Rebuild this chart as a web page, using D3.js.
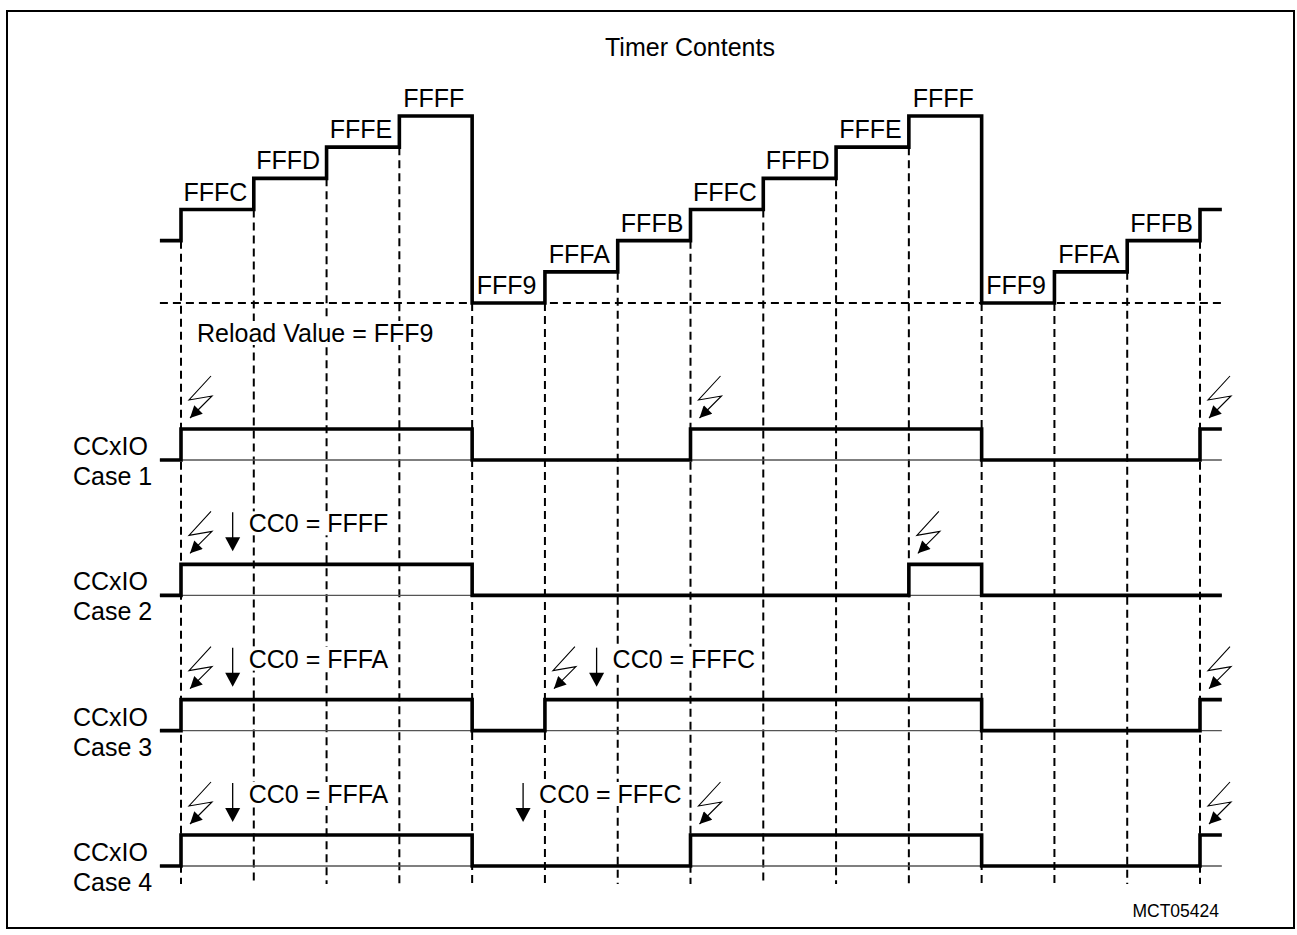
<!DOCTYPE html>
<html>
<head>
<meta charset="utf-8">
<script src="https://cdn.jsdelivr.net/npm/d3@7"></script>
<style>
  body { margin: 0; background: #fff; }
  text { font-family: "Liberation Sans", Arial, sans-serif; fill: #000; }
</style>
</head>
<body>
<script>
// timer ticks (clock edges) 0..14, segment i runs from tick i to tick i+1 (segment -1 is before tick 0)
var ticks = d3.range(15);
var counterValues = ["FFFB", "FFFC", "FFFD", "FFFE", "FFFF", "FFF9", "FFFA", "FFFB",
  "FFFC", "FFFD", "FFFE", "FFFF", "FFF9", "FFFA", "FFFB", "FFFC"];
var reloadValue = "FFF9";

var caseNames = ["Case 1", "Case 2", "Case 3", "Case 4"];
var caseLevels = [
  [0, 1, 1, 1, 1, 0, 0, 0, 1, 1, 1, 1, 0, 0, 0, 1],
  [0, 1, 1, 1, 1, 0, 0, 0, 0, 0, 0, 1, 0, 0, 0, 0],
  [0, 1, 1, 1, 1, 0, 1, 1, 1, 1, 1, 1, 0, 0, 0, 1],
  [0, 1, 1, 1, 1, 0, 0, 0, 1, 1, 1, 1, 0, 0, 0, 1]
];
// ticks where the output is triggered (lightning)
var triggerTicks = [[0, 7, 14], [0, 10], [0, 5, 14], [0, 7, 14]];
// compare register writes: time and new value
var compareTimes = [[], [0.71], [0.71, 5.71], [0.71, 4.7]];
var compareValues = [[], ["FFFF"], ["FFFA", "FFFC"], ["FFFA", "FFFC"]];

var W = 1297, H = 935;
var svg = d3.select("body").append("svg")
  .attr("width", W)
  .attr("height", H);

svg.append("rect")
  .attr("x", 7).attr("y", 11)
  .attr("width", 1287).attr("height", 917)
  .attr("fill", "none").attr("stroke", "#000").attr("stroke-width", 2);

var x = d3.scaleLinear().domain([0, 14]).range([181, 1200]);
var tStart = -0.29, tEnd = 14.3;
var yCount = d3.scaleLinear().domain([0xFFF9, 0xFFFF]).range([303, 116]);
var caseLow = d3.scaleLinear().domain([0, 3]).range([460, 866]);
var highOffset = 31;

function hex(s) { return parseInt(s, 16); }

var defs = svg.append("defs");
defs.append("marker")
  .attr("id", "bolt")
  .attr("viewBox", "0 0 10 10")
  .attr("refX", 10).attr("refY", 5)
  .attr("markerWidth", 15).attr("markerHeight", 12)
  .attr("markerUnits", "userSpaceOnUse")
  .attr("orient", "auto")
  .append("path").attr("d", "M0,0L10,5L0,10Z").attr("fill", "#000");

// dashed grid
var gDash = svg.append("g");
gDash.append("line")
  .attr("x1", x(tStart)).attr("x2", x(tEnd))
  .attr("y1", yCount(hex(reloadValue))).attr("y2", yCount(hex(reloadValue)))
  .attr("stroke", "#000").attr("stroke-width", 1.8).attr("stroke-dasharray", "8,5");

gDash.selectAll(".vdash")
  .data(ticks)
  .enter().append("line")
  .attr("class", "vdash")
  .attr("x1", function(d) { return x(d); })
  .attr("x2", function(d) { return x(d); })
  .attr("y1", function(d) {
    var a = hex(counterValues[d]), b = hex(counterValues[d + 1]);
    return yCount(Math.min(a, b));
  })
  .attr("y2", 884)
  .attr("stroke", "#000").attr("stroke-width", 2).attr("stroke-dasharray", "8,5");

// text with white background
function label(g, tx, ty, str, size, anchor) {
  var t = g.append("text")
    .attr("x", tx).attr("y", ty)
    .attr("font-size", size)
    .attr("text-anchor", anchor || "start")
    .text(str);
  var bb = t.node().getBBox();
  g.insert("rect", function() { return t.node(); })
    .attr("x", bb.x - 1).attr("y", bb.y + 2)
    .attr("width", bb.width + 2).attr("height", bb.height - 4)
    .attr("fill", "#fff");
  return t;
}

var gText = svg.append("g");
svg.append("text")
  .attr("x", 690).attr("y", 56)
  .attr("font-size", 25).attr("text-anchor", "middle")
  .text("Timer Contents");

// counter step labels
d3.range(ticks.length - 1).forEach(function(i) {
  var v = counterValues[i + 1];
  label(gText, (x(i) + x(i + 1)) / 2 - 2, yCount(hex(v)) - 9, v, 25, "middle");
});
label(gText, 197, 342, "Reload Value = " + reloadValue, 25);

// counter staircase
var stepLine = d3.line()
  .x(function(d) { return x(d[0]); })
  .y(function(d) { return d[1]; })
  .curve(d3.curveStepAfter);

var countPts = [[tStart, yCount(hex(counterValues[0]))]];
ticks.forEach(function(t) { countPts.push([t, yCount(hex(counterValues[t + 1]))]); });
countPts.push([tEnd, yCount(hex(counterValues[counterValues.length - 1]))]);

svg.append("path")
  .attr("d", stepLine(countPts))
  .attr("fill", "none").attr("stroke", "#000").attr("stroke-width", 3.6)
  .attr("stroke-linejoin", "miter");

// output cases
caseNames.forEach(function(name, k) {
  var low = caseLow(k), high = low - highOffset;
  var g = svg.append("g");

  g.append("line")
    .attr("x1", x(tStart)).attr("x2", x(tEnd))
    .attr("y1", low).attr("y2", low)
    .attr("stroke", "#555").attr("stroke-width", 1.3);

  var lv = caseLevels[k];
  var pts = [[tStart, lv[0] ? high : low]];
  ticks.forEach(function(t) { pts.push([t, lv[t + 1] ? high : low]); });
  pts.push([tEnd, lv[lv.length - 1] ? high : low]);

  g.append("path")
    .attr("d", stepLine(pts))
    .attr("fill", "none").attr("stroke", "#000").attr("stroke-width", 3.6)
    .attr("stroke-linejoin", "miter");

  g.append("text").attr("x", 73).attr("y", low - 5).attr("font-size", 25).text("CCxIO");
  g.append("text").attr("x", 73).attr("y", low + 25).attr("font-size", 25).text(name);

  // trigger bolts
  triggerTicks[k].forEach(function(t) {
    var x0 = x(t);
    g.append("path")
      .attr("d", "M" + (x0 + 30) + "," + (high - 53) +
        "L" + (x0 + 8) + "," + (high - 29) +
        "L" + (x0 + 31) + "," + (high - 33) +
        "L" + (x0 + 9) + "," + (high - 11))
      .attr("fill", "none").attr("stroke", "#000").attr("stroke-width", 1.1)
      .attr("marker-end", "url(#bolt)");
  });

  // compare writes
  compareTimes[k].forEach(function(t, j) {
    var ax = x(t);
    g.append("line")
      .attr("x1", ax).attr("x2", ax)
      .attr("y1", high - 52).attr("y2", high - 26)
      .attr("stroke", "#000").attr("stroke-width", 1.3);
    g.append("path")
      .attr("d", "M" + (ax - 7.5) + "," + (high - 27) + "L" + (ax + 7.5) + "," + (high - 27) + "L" + ax + "," + (high - 13) + "Z")
      .attr("fill", "#000");
    label(gText, ax + 16, high - 32, "CC0 = " + compareValues[k][j], 25);
  });
});

svg.append("text")
  .attr("x", 1219).attr("y", 917)
  .attr("font-size", 17.5).attr("text-anchor", "end")
  .text("MCT05424");
</script>
</body>
</html>
